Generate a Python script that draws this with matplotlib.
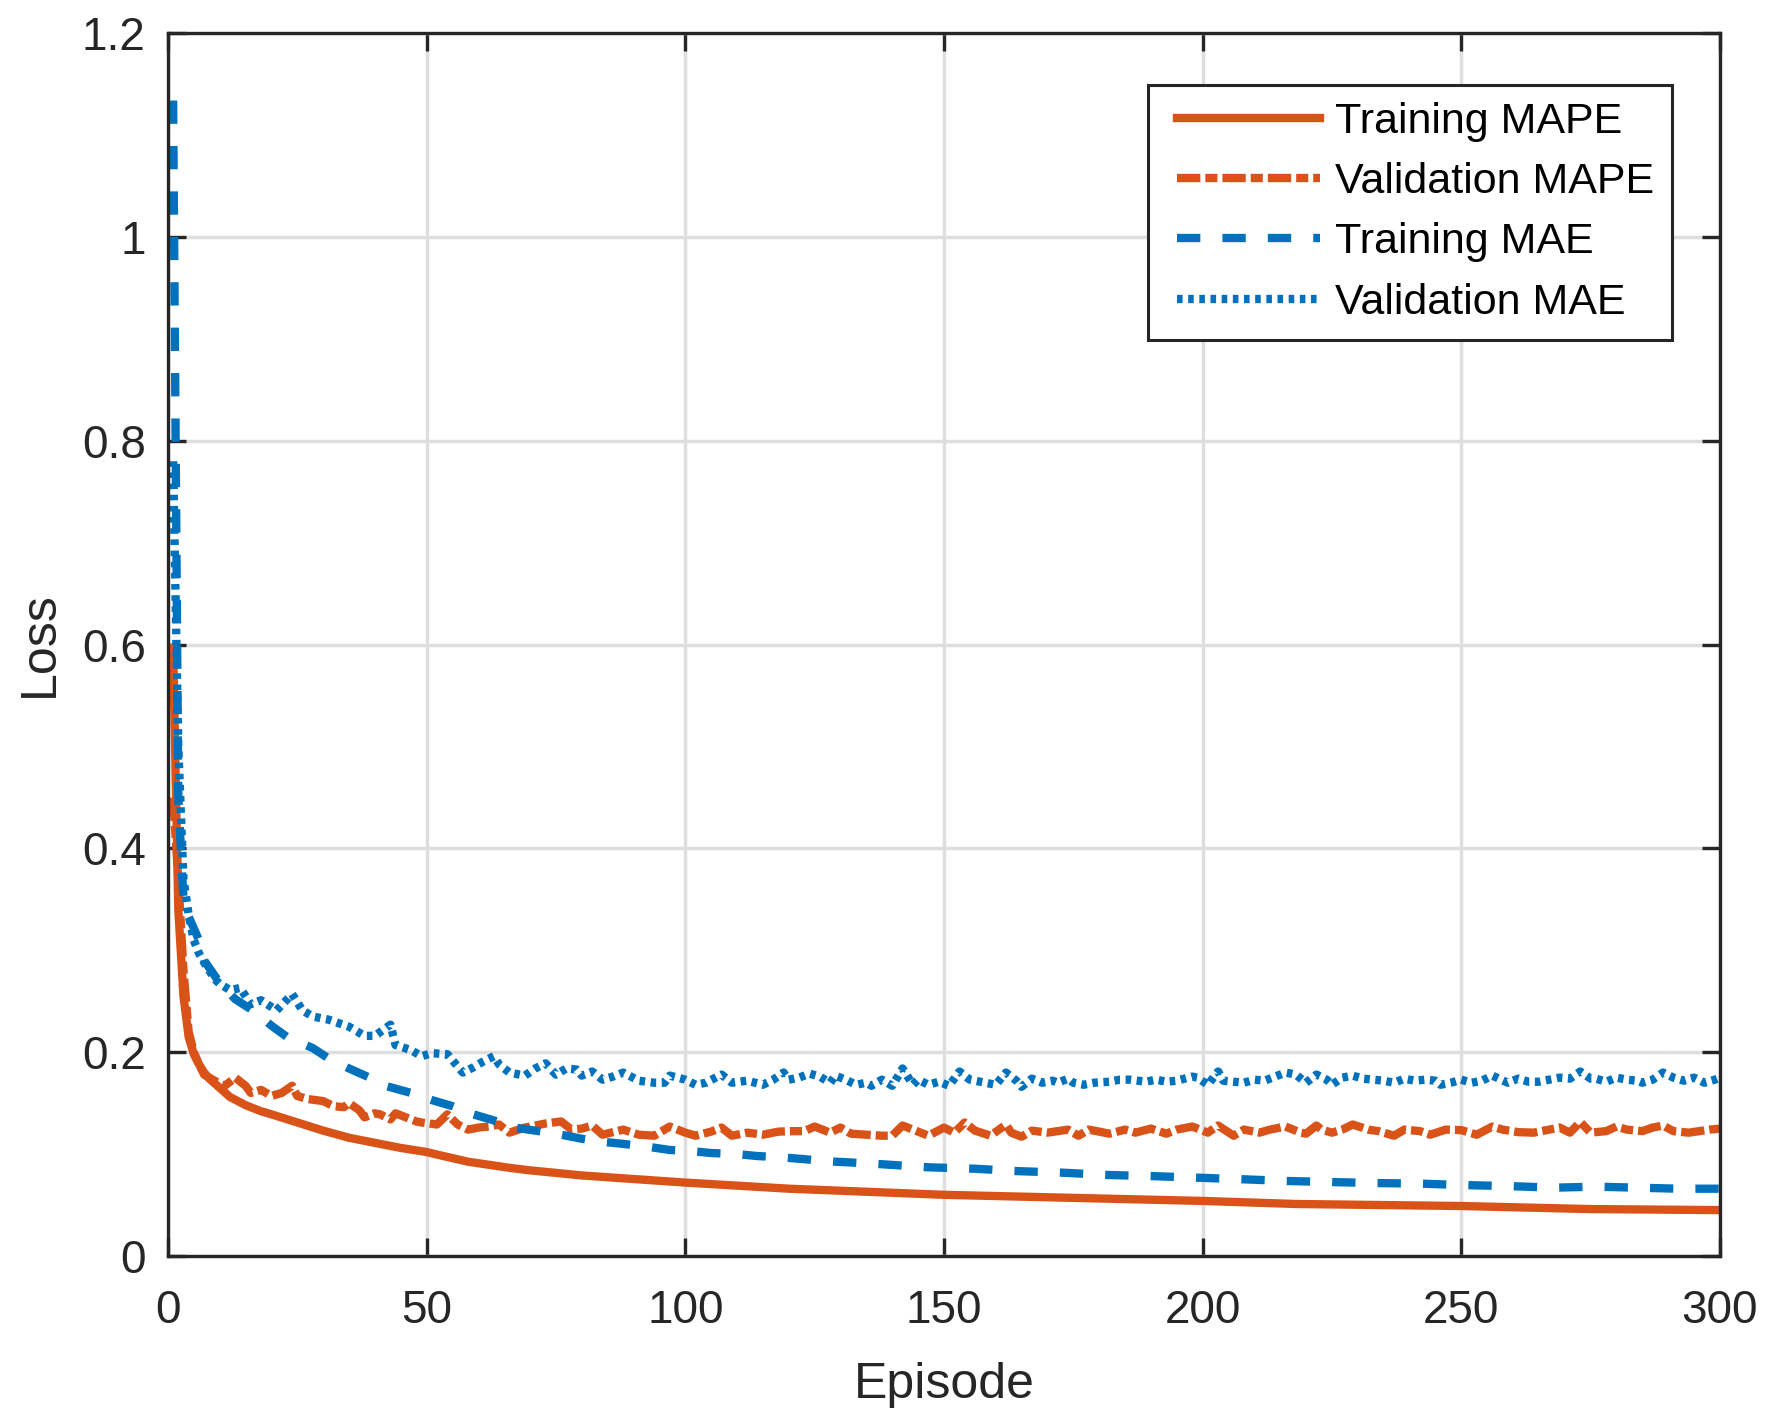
import numpy as np
import matplotlib
matplotlib.use("Agg")
import matplotlib.pyplot as plt
from matplotlib.ticker import FormatStrFormatter, MultipleLocator
from matplotlib.legend_handler import HandlerLine2D

plt.rcParams['font.family'] = ['Liberation Sans', 'DejaVu Sans']

# values (episode, loss)
train_mape_ep = [1, 2, 3, 4, 5, 6, 7, 8, 10, 12, 15, 18, 20, 25, 30, 35, 40, 45, 50, 52, 55,
                 58, 62, 66, 70, 75, 80, 90, 100, 110, 120, 135, 150, 175, 200, 218, 250,
                 275, 300]
train_mape = [0.597, 0.34, 0.255, 0.215, 0.198, 0.188, 0.180, 0.174, 0.165, 0.156, 0.148,
              0.142, 0.139, 0.131, 0.123, 0.116, 0.111, 0.106, 0.102, 0.0995, 0.096, 0.0925,
              0.0895, 0.0865, 0.084, 0.0815, 0.079, 0.0755, 0.072, 0.069, 0.066, 0.063,
              0.060, 0.057, 0.054, 0.051, 0.049, 0.046, 0.045]

val_mape_ep = [1, 2, 3, 4, 5, 6, 7, 9, 11, 13, 15, 16, 18, 20, 22, 24, 25, 27, 30, 32, 34, 35,
               37, 38, 40, 41, 43, 44, 46, 48, 49, 52, 54, 56, 58, 60, 62, 64, 66, 69, 73, 76,
               78, 80, 82, 84, 88, 91, 94, 97, 100, 102, 105, 107, 109, 112, 115, 118, 121,
               123, 125, 128, 130, 132, 135, 138, 140, 142, 145, 147, 150, 152, 154, 156, 159,
               162, 163, 165, 167, 170, 172, 174, 176, 178, 182, 185, 187, 190, 193, 195, 198,
               201, 203, 206, 208, 211, 213, 216, 219, 220, 222, 223, 225, 227, 229, 232, 234,
               237, 239, 242, 244, 247, 250, 253, 256, 258, 261, 264, 267, 269, 271, 273, 275,
               278, 280, 282, 285, 287, 289, 291, 294, 296, 298, 300]
val_mape = [0.45, 0.37, 0.28, 0.22, 0.20, 0.188, 0.178, 0.172, 0.167, 0.175, 0.167, 0.160,
            0.163, 0.157, 0.160, 0.167, 0.157, 0.154, 0.152, 0.147, 0.146, 0.150, 0.143, 0.136,
            0.140, 0.139, 0.134, 0.140, 0.136, 0.132, 0.131, 0.129, 0.139, 0.129, 0.124, 0.126,
            0.127, 0.129, 0.121, 0.126, 0.130, 0.132, 0.124, 0.125, 0.128, 0.119, 0.124, 0.119,
            0.118, 0.127, 0.121, 0.118, 0.122, 0.126, 0.118, 0.121, 0.119, 0.122, 0.1225,
            0.1225, 0.127, 0.121, 0.126, 0.120, 0.119, 0.118, 0.118, 0.128, 0.122, 0.118,
            0.126, 0.121, 0.131, 0.123, 0.118, 0.129, 0.121, 0.117, 0.123, 0.121, 0.1225,
            0.124, 0.118, 0.124, 0.120, 0.124, 0.121, 0.125, 0.120, 0.124, 0.127, 0.121, 0.128,
            0.118, 0.124, 0.121, 0.124, 0.127, 0.121, 0.120, 0.128, 0.124, 0.121, 0.124, 0.129,
            0.124, 0.1225, 0.118, 0.124, 0.1225, 0.119, 0.124, 0.1235, 0.119, 0.127, 0.124,
            0.1215, 0.121, 0.124, 0.126, 0.121, 0.1315, 0.121, 0.1225, 0.127, 0.124, 0.1225,
            0.126, 0.128, 0.1225, 0.121, 0.1225, 0.124, 0.125]

train_mae_ep = [1, 2, 3, 4, 6, 7, 10, 13, 17, 20, 23, 28, 31, 35, 39, 42, 47, 51, 55, 59, 63,
                67, 71, 75, 80, 84, 88, 93, 97, 101, 105, 110, 114, 118, 123, 127, 131, 138,
                147, 156, 164, 173, 182, 190, 199, 208, 216, 225, 234, 242, 250, 259, 268, 276,
                284, 292, 300]
train_mae = [1.134, 0.45, 0.35, 0.333, 0.31, 0.29, 0.268, 0.252, 0.239, 0.226, 0.215, 0.204,
             0.194, 0.184, 0.175, 0.167, 0.160, 0.153, 0.147, 0.139, 0.133, 0.126, 0.123,
             0.120, 0.115, 0.112, 0.110, 0.107, 0.104, 0.103, 0.101, 0.100, 0.098, 0.097,
             0.095, 0.093, 0.092, 0.090, 0.087, 0.0856, 0.0833, 0.0817, 0.0794, 0.0784,
             0.0768, 0.0752, 0.0736, 0.0725, 0.0715, 0.071, 0.0696, 0.0686, 0.067, 0.068,
             0.067, 0.066, 0.066]

val_mae_ep = [1, 2, 3, 4, 5, 6, 7, 8, 9, 10, 12, 14, 16, 18, 21, 24, 26, 28, 31, 35, 38, 40,
              43, 44, 47, 49, 51, 54, 57, 59, 61, 63, 64, 66, 69, 71, 73, 75, 77, 79, 80, 82,
              84, 86, 88, 91, 94, 96, 97, 100, 102, 104, 107, 109, 112, 115, 117, 119, 120,
              122, 124, 126, 128, 129, 131, 133, 135, 136, 138, 140, 142, 144, 145, 147, 149,
              151, 153, 155, 157, 160, 162, 164, 165, 167, 169, 171, 172, 174, 175, 177, 179,
              182, 184, 186, 189, 191, 193, 195, 198, 199, 201, 203, 204, 206, 208, 210, 212,
              214, 216, 218, 220, 222, 224, 225, 227, 229, 231, 233, 235, 237, 239, 241, 243,
              245, 246, 248, 250, 252, 254, 256, 259, 261, 263, 265, 267, 269, 271, 273, 275,
              276, 278, 280, 282, 284, 285, 287, 289, 291, 293, 295, 297, 299, 300]
val_mae = [0.78, 0.50, 0.37, 0.335, 0.31, 0.297, 0.288, 0.28, 0.272, 0.267, 0.261, 0.263,
           0.247, 0.251, 0.241, 0.257, 0.241, 0.235, 0.232, 0.225, 0.216, 0.216, 0.227, 0.207,
           0.202, 0.196, 0.199, 0.198, 0.180, 0.185, 0.191, 0.196, 0.188, 0.180, 0.177, 0.184,
           0.189, 0.178, 0.184, 0.183, 0.177, 0.181, 0.173, 0.176, 0.180, 0.172, 0.170, 0.170,
           0.177, 0.173, 0.168, 0.170, 0.178, 0.170, 0.172, 0.168, 0.173, 0.180, 0.173, 0.175,
           0.179, 0.176, 0.170, 0.177, 0.173, 0.168, 0.170, 0.167, 0.173, 0.167, 0.184, 0.168,
           0.173, 0.168, 0.171, 0.167, 0.181, 0.173, 0.171, 0.168, 0.180, 0.172, 0.166, 0.174,
           0.170, 0.172, 0.170, 0.174, 0.170, 0.168, 0.170, 0.171, 0.173, 0.173, 0.171, 0.173,
           0.171, 0.172, 0.176, 0.175, 0.168, 0.181, 0.172, 0.171, 0.170, 0.173, 0.172, 0.176,
           0.180, 0.178, 0.170, 0.178, 0.173, 0.168, 0.175, 0.177, 0.174, 0.173, 0.172, 0.170,
           0.174, 0.172, 0.173, 0.172, 0.168, 0.170, 0.173, 0.170, 0.172, 0.177, 0.170, 0.174,
           0.171, 0.171, 0.173, 0.175, 0.174, 0.181, 0.174, 0.174, 0.171, 0.175, 0.173, 0.172,
           0.170, 0.173, 0.180, 0.175, 0.172, 0.175, 0.170, 0.173, 0.175]

orange = '#D95319'
blue = '#0072BD'
axcol = '#262626'
lw = 6.0

fig = plt.figure(figsize=(17.79, 14.23), dpi=100)
ax = fig.add_axes([0.0944, 0.1174, 0.8724, 0.8592])

ax.plot(train_mape_ep, train_mape, color=orange, lw=lw, label='Training MAPE')
ax.plot(val_mape_ep, val_mape, color=orange, lw=lw,
        linestyle=(0, (2.8, 0.6, 1.45, 0.6)), label='Validation MAPE')
ax.plot(train_mae_ep, train_mae, color=blue, lw=lw,
        linestyle=(0, (2.8, 2.65)), label='Training MAE')
ax.plot(val_mae_ep, val_mae, color=blue, lw=lw,
        linestyle=(0, (0.67, 0.67)), label='Validation MAE')

ax.set_xlim(0, 300)
ax.set_ylim(0, 1.2)
ax.xaxis.set_major_locator(MultipleLocator(50))
ax.yaxis.set_major_locator(MultipleLocator(0.2))
ax.yaxis.set_major_formatter(FormatStrFormatter('%g'))

ax.grid(True, color='#DEDEDE', lw=2.5)
ax.set_axisbelow(True)
for s in ax.spines.values():
    s.set_color(axcol)
    s.set_linewidth(2.4)
ax.tick_params(direction='in', length=13, width=2.4, colors=axcol, labelsize=33,
               top=True, right=True)
ax.tick_params(axis='x', pad=24)
ax.tick_params(axis='y', pad=16)

ax.set_xlabel('Episode', fontsize=36, color=axcol, labelpad=21)
ax.set_ylabel('Loss', fontsize=36, color=axcol, labelpad=14)

# legend lines start a bit further from the frame, like the MATLAB legend
shift = 0.29
leg = ax.legend(loc='upper right', bbox_to_anchor=(0.969, 0.958), borderaxespad=0,
                fontsize=31, handlelength=3.59, handletextpad=0.37, labelspacing=0.47,
                borderpad=0.4, fancybox=False, framealpha=1,
                handler_map={matplotlib.lines.Line2D: HandlerLine2D(xpad=shift)})
leg.get_frame().set_edgecolor(axcol)
leg.get_frame().set_linewidth(2.2)

fig.savefig('out.png', dpi=100)
